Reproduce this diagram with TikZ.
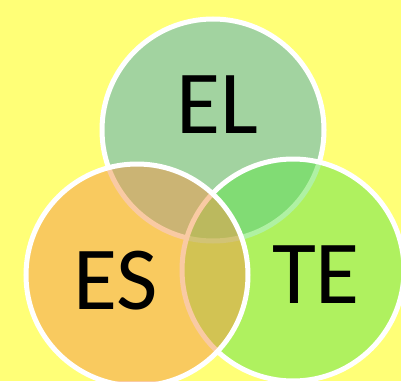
\documentclass[tikz,border=0pt]{standalone}
\usepackage{fontspec}
\setmainfont{Carlito}
\definecolor{bgyellow}{RGB}{255,255,119}
\definecolor{elgreen}{RGB}{71,169,201}
\definecolor{tegreen}{RGB}{97,229,73}
\definecolor{esorange}{RGB}{245,151,73}
\begin{document}
\begin{tikzpicture}[x=1pt,y=1pt,
    ring/.style={draw=white,line width=5pt,fill opacity=0.5},
    tag/.style={inner sep=0pt,font=\fontsize{90}{90}\selectfont}]

            \fill[bgyellow] (0,0) rectangle (401,381);
            \useasboundingbox (0,0) rectangle (401,381);
            \draw[ring,fill=elgreen] (213,251) circle (111);
            \draw[ring,fill=tegreen] (293,111) circle (111);
            \draw[ring,fill=esorange] (137,106) circle (111);
            \node[tag] (el) at (217,276) {EL};
            \node[tag] (es) at (116,100) {ES};
            \node[tag] (te) at (316,106) {TE};
            \end{tikzpicture}
\end{document}
